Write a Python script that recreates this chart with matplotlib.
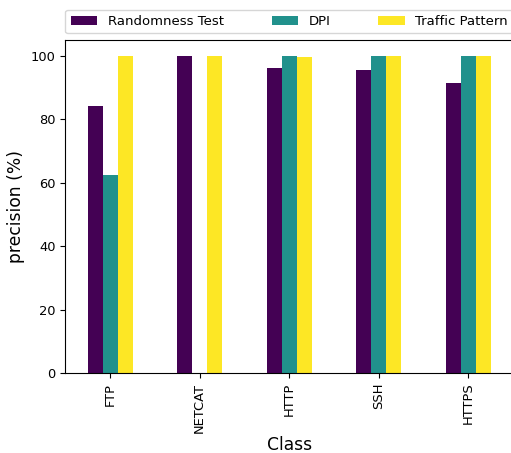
import numpy as np
import matplotlib
matplotlib.use('Agg')
import matplotlib.pyplot as plt

classes = ['FTP', 'NETCAT', 'HTTP', 'SSH', 'HTTPS']
randomness = [84.1, 100.0, 96.1, 95.4, 91.4]
dpi = [62.5, 0.0, 100.0, 100.0, 100.0]
traffic = [100.0, 100.0, 99.5, 100.0, 100.0]
series = ['Randomness Test', 'DPI', 'Traffic Pattern']
colors = ['#440154', '#21918c', '#fde725']

fig, ax = plt.subplots(figsize=(5.11, 4.53), dpi=100)
fig.subplots_adjust(left=0.128, right=1.004, top=0.9117, bottom=0.1766)

x = np.arange(len(classes))
w = 0.5 / 3
for i, vals in enumerate([randomness, dpi, traffic]):
    ax.bar(x + (i - 1) * w, vals, width=w, color=colors[i], label=series[i])

ax.set_xticks(x)
ax.set_xticklabels(classes, rotation=90)
ax.tick_params(labelsize=9.4)
ax.set_xlim(-0.5, len(classes) - 0.5)
ax.set_ylim(0, 105)
ax.set_xlabel('Class', fontsize=12.3, labelpad=2.5)
ax.set_ylabel('precision (%)', fontsize=12.3)
ax.legend(bbox_to_anchor=(0, 1.02, 1, 0.102), loc='lower left', ncol=3,
          mode='expand', borderaxespad=0, fontsize=9.5)

plt.savefig('out.png')
